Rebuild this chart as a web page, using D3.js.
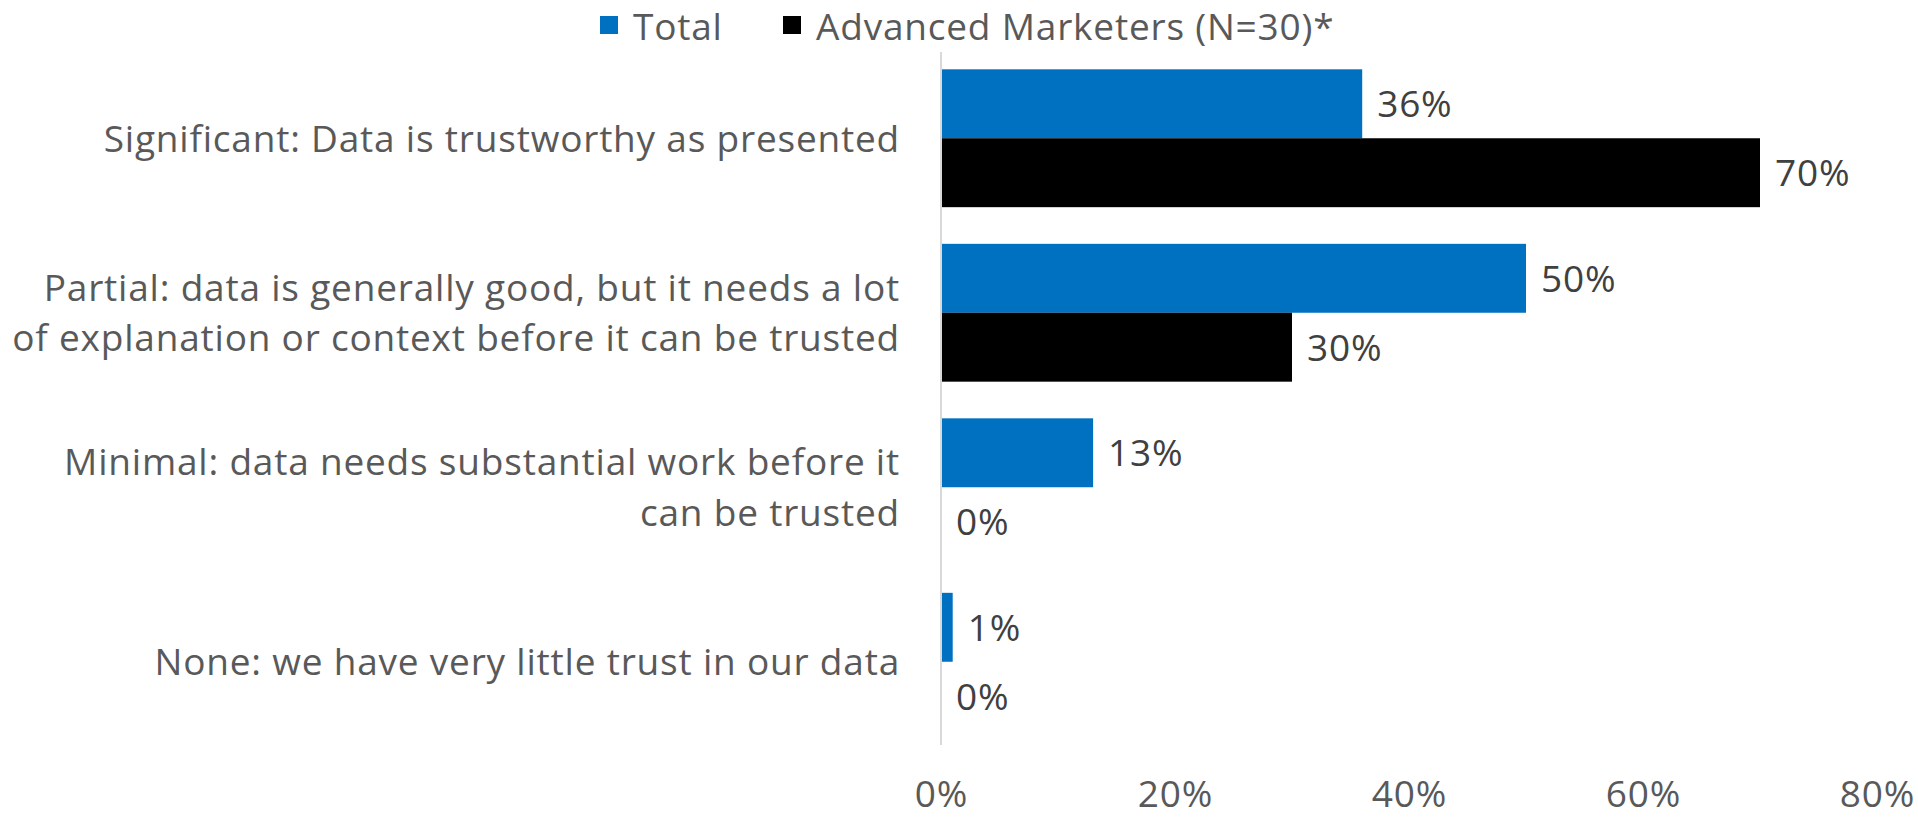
<!DOCTYPE html>
<html>
<head>
<meta charset="utf-8">
<script src="https://cdn.jsdelivr.net/npm/d3@7"></script>
<style>
  html, body { margin: 0; padding: 0; background: #fff; }
  svg { display: block; }
  text { font-family: "Open Sans", Lato, sans-serif; letter-spacing: 0.8px; }
</style>
</head>
<body>
<svg id="chart" width="1918" height="819"></svg>
<script>
// ---- data ----
const categories = [
  ["Significant: Data is trustworthy as presented"],
  ["Partial: data is generally good, but it needs a lot", "of explanation or context before it can be trusted"],
  ["Minimal: data needs substantial work before it", "can be trusted"],
  ["None: we have very little trust in our data"]
];
const seriesNames = ["Total", "Advanced Marketers (N=30)*"];
const totalValues = [36, 50, 13, 1];
const advancedValues = [70, 30, 0, 0];
const tickValues = [0, 20, 40, 60, 80];
const seriesColors = ["#0070C0", "#000000"];

// ---- layout ----
const svg = d3.select("#chart");
const plot = { left: 941, right: 1877, top: 51, bottom: 749 };
const fontSize = 37;

const catKeys = categories.map((c, i) => i);
const y0 = d3.scaleBand().domain(catKeys).range([plot.top, plot.bottom])
  .paddingInner(0.21).paddingOuter(0.105);
const y1 = d3.scaleBand().domain([0, 1]).range([0, y0.bandwidth()]).padding(0);
const x = d3.scaleLinear().domain([0, 80]).range([plot.left, plot.right]);

const rows = categories.map((c, i) => ({ i, vals: [totalValues[i], advancedValues[i]] }));

// bars
const g = svg.append("g");
const groups = g.selectAll("g.cat").data(rows).join("g")
  .attr("class", "cat")
  .attr("transform", d => `translate(0,${y0(d.i)})`);

groups.selectAll("rect").data(d => d.vals.map((v, s) => ({ v, s }))).join("rect")
  .attr("x", x(0))
  .attr("y", d => y1(d.s))
  .attr("width", d => x(d.v) - x(0))
  .attr("height", y1.bandwidth())
  .attr("fill", d => seriesColors[d.s]);

// data labels
groups.selectAll("text.lbl").data(d => d.vals.map((v, s) => ({ v, s }))).join("text")
  .attr("class", "lbl")
  .attr("x", d => x(d.v) + 15)
  .attr("y", d => y1(d.s) + y1.bandwidth() / 2)
  .attr("dy", "0.36em")
  .attr("font-size", fontSize)
  .attr("fill", "#404040")
  .text(d => d.v + "%");

// vertical axis line
svg.append("line")
  .attr("x1", x(0)).attr("x2", x(0))
  .attr("y1", plot.top + 1).attr("y2", plot.bottom - 4)
  .attr("stroke", "#d9d9d9").attr("stroke-width", 2);

// category labels
const catG = svg.append("g");
catG.selectAll("text").data(rows).join("text")
  .attr("text-anchor", "end")
  .attr("font-size", fontSize)
  .attr("fill", "#595959")
  .attr("transform", d => `translate(900,${y0(d.i) + y0.bandwidth() / 2})`)
  .each(function (d) {
    const lines = categories[d.i];
    const lh = 50.7;
    const t = d3.select(this);
    lines.forEach((ln, k) => {
      t.append("tspan")
        .attr("x", 0)
        .attr("y", (k - (lines.length - 1) / 2) * lh)
        .attr("dy", "0.36em")
        .text(ln);
    });
  });

// x axis tick labels
const xAxis = d3.axisBottom(x).tickValues(tickValues).tickFormat(d => d + "%").tickSize(0);
const ax = svg.append("g").attr("transform", `translate(0,${807})`).call(xAxis);
ax.select(".domain").remove();
ax.selectAll("text")
  .attr("font-size", fontSize)
  .attr("fill", "#595959")
  .attr("font-family", "'Open Sans', Lato, sans-serif")
  .attr("y", 0)
  .attr("dy", "0");

// legend
const legend = svg.append("g");
const legendX = [600, 783];
seriesNames.forEach((name, s) => {
  legend.append("rect")
    .attr("x", legendX[s]).attr("y", 16)
    .attr("width", 18).attr("height", 18)
    .attr("fill", seriesColors[s]);
  legend.append("text")
    .attr("x", legendX[s] + 33).attr("y", 27)
    .attr("dy", "0.36em")
    .attr("font-size", fontSize)
    .attr("fill", "#595959")
    .text(name);
});
</script>
</body>
</html>
